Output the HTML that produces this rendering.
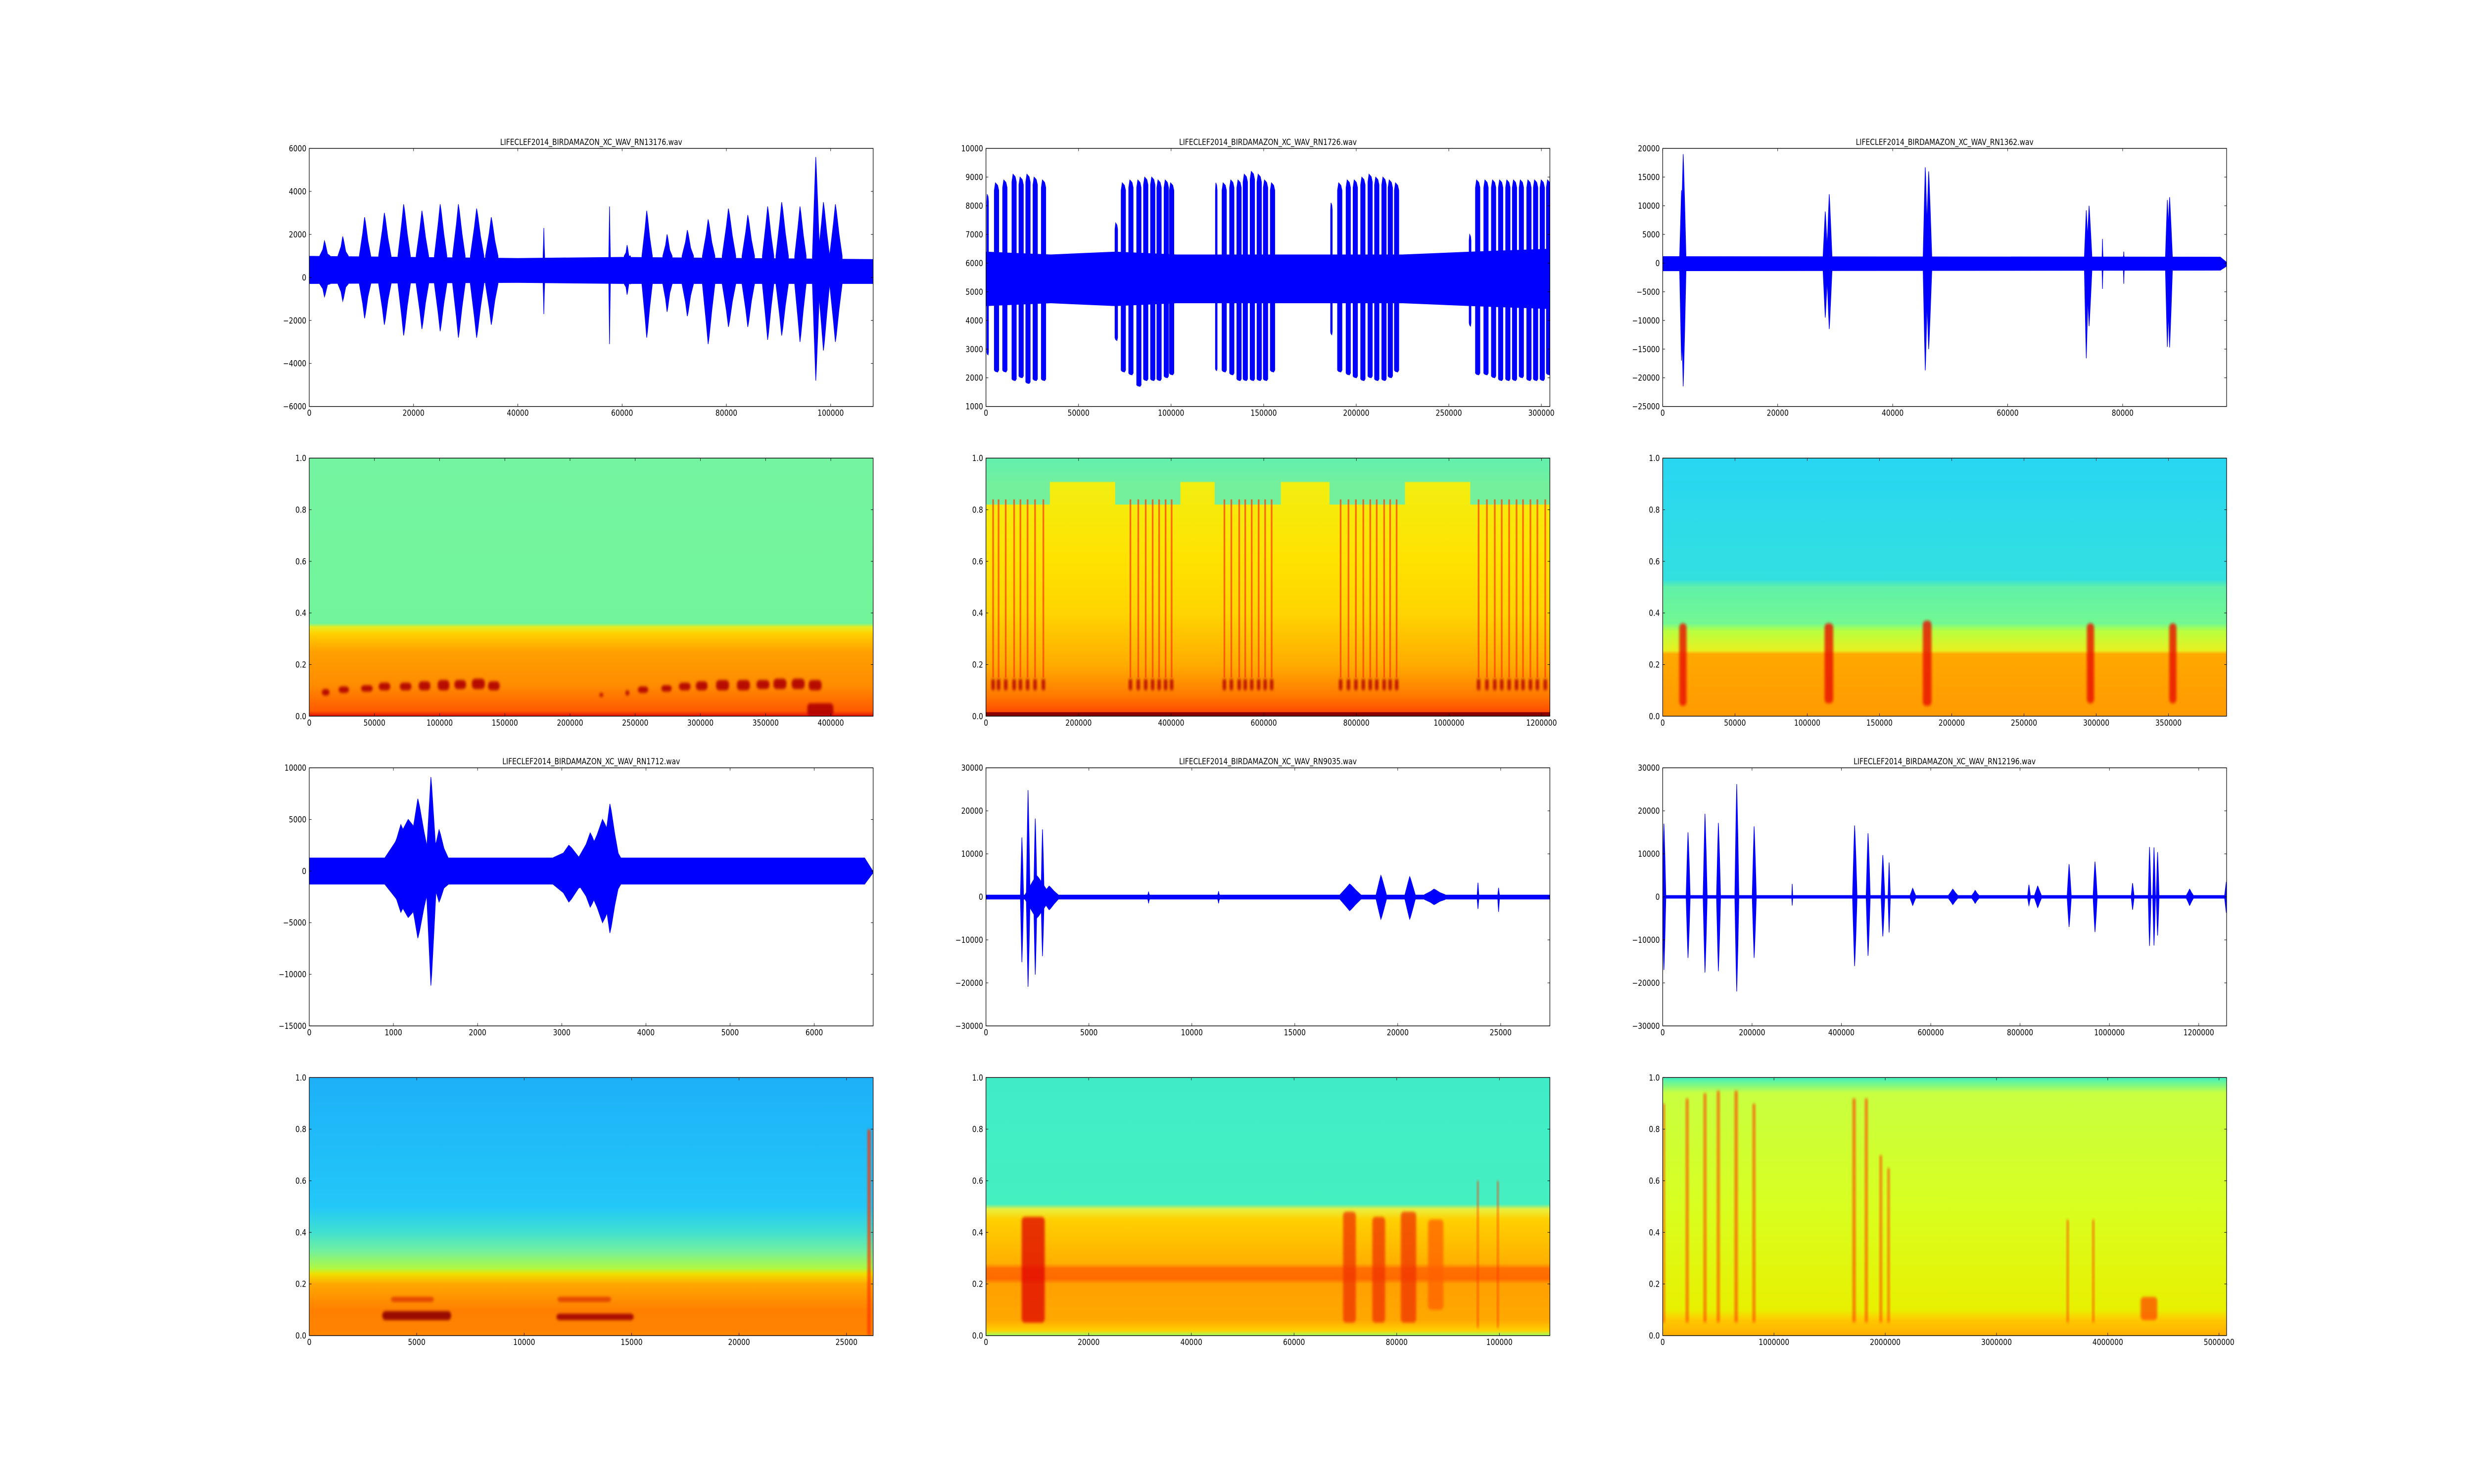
<!DOCTYPE html>
<html>
<head>
<meta charset="utf-8">
<style>
html,body{margin:0;padding:0;background:#fff;overflow:hidden;width:100%;height:100%;}
svg{display:block;width:100vw;height:100vh;}
text{font-family:"DejaVu Sans","Liberation Sans",sans-serif;font-size:16.7px;fill:#000;}
</style>
</head>
<body>
<svg id="fig" xmlns="http://www.w3.org/2000/svg" viewBox="0 0 6000 3000" preserveAspectRatio="none">
<rect x="0" y="0" width="6000" height="3000" fill="#fff"/>
<defs>
<filter id="blur" x="-50%" y="-50%" width="200%" height="200%"><feGaussianBlur stdDeviation="3"/></filter>
</defs>
</svg>
<script>
// ---------- Waveform data ----------
const w1Title = "LIFECLEF2014_BIRDAMAZON_XC_WAV_RN13176.wav";
const w1Xmax = 108150;
const w1Y = [-6000, 6000];
const w1XTicks = [0, 20000, 40000, 60000, 80000, 100000];
const w1YTicks = [-6000, -4000, -2000, 0, 2000, 4000, 6000];
const w1Base = [[0, 1000, -300], [40000, 900, -250], [60000, 950, -300], [108150, 850, -300]];
const w1EvX = [3000, 6500, 10700, 14500, 18200, 21700, 25200, 28700, 32200, 35000, 45000, 57600, 61000, 64800, 68700, 72600, 76600, 80500, 84200, 88000, 90700, 94200, 97200, 98700, 101000];
const w1EvHi = [1700, 1900, 2800, 3000, 3400, 3100, 3400, 3400, 3200, 2800, 2300, 3300, 1500, 3100, 2000, 2200, 2700, 3200, 2900, 3300, 3500, 3300, 5600, 3500, 3400];
const w1EvLo = [-900, -1100, -1900, -2200, -2700, -2400, -2500, -2800, -2800, -2200, -1700, -3100, -800, -2800, -1600, -1800, -3100, -2300, -2300, -2900, -2700, -3000, -4800, -3400, -3000];
const w1EvW = [2000, 2000, 2200, 2400, 2400, 2400, 2400, 2400, 2600, 2400, 300, 300, 1200, 2000, 1800, 2200, 2400, 2600, 2400, 2200, 2400, 2200, 1400, 2200, 2400];

const w2Title = "LIFECLEF2014_BIRDAMAZON_XC_WAV_RN1726.wav";
const w2Xmax = 304600;
const w2Y = [1000, 10000];
const w2XTicks = [0, 50000, 100000, 150000, 200000, 250000, 300000];
const w2YTicks = [1000, 2000, 3000, 4000, 5000, 6000, 7000, 8000, 9000, 10000];
const w2Base = [[0, 6400, 4500], [35000, 6300, 4600], [70000, 6400, 4500], [103000, 6300, 4600], [157000, 6300, 4600], [225000, 6300, 4600], [262000, 6400, 4500], [304600, 6500, 4400]];
const w2EvX = [900, 5700, 10200, 15200, 19000, 22700, 26600, 31100, 70400, 74200, 78300, 82600, 86300, 90100, 93500, 97400, 100300, 124400, 128700, 132800, 136700, 140100, 143900, 147600, 151000, 154800, 186600, 191100, 195700, 199500, 203600, 207500, 211100, 215000, 218400, 221800, 261500, 265600, 270100, 274200, 278000, 281900, 285500, 289200, 293300, 296900, 300500, 303900];
const w2EvHi = [8400, 8800, 8900, 9100, 9000, 9100, 9000, 8900, 7400, 8800, 8900, 8900, 9000, 9000, 8900, 8900, 8800, 8800, 8800, 8900, 8900, 9100, 9200, 9100, 8900, 8800, 8100, 8800, 8900, 8900, 9000, 9100, 9000, 9000, 8900, 8800, 7000, 8900, 8900, 8900, 8900, 8900, 8900, 8900, 8900, 8900, 8900, 8900];
const w2EvLo = [2800, 2200, 2200, 1900, 2000, 1800, 1900, 1900, 3300, 2200, 2100, 1700, 1900, 1900, 1900, 2000, 2100, 2250, 2200, 2100, 1900, 1900, 1900, 1900, 1900, 2200, 3500, 2200, 2100, 2000, 1900, 2000, 1900, 1900, 2000, 2200, 3800, 2100, 2100, 2000, 1900, 1900, 1900, 2000, 1900, 1900, 1900, 2100];
const w2EvW = [900, 2400, 2400, 2400, 2400, 2400, 2400, 2400, 1400, 2400, 2400, 2400, 2400, 2400, 2400, 2400, 2400, 900, 2400, 2400, 2400, 2400, 2400, 2400, 2400, 2400, 900, 2400, 2400, 2400, 2400, 2400, 2400, 2400, 2400, 2400, 1000, 2400, 2400, 2400, 2400, 2400, 2400, 2400, 2400, 2400, 2400, 2400];

const w3Title = "LIFECLEF2014_BIRDAMAZON_XC_WAV_RN1362.wav";
const w3Xmax = 98080;
const w3Y = [-25000, 20000];
const w3XTicks = [0, 20000, 40000, 60000, 80000];
const w3YTicks = [-25000, -20000, -15000, -10000, -5000, 0, 5000, 10000, 15000, 20000];
const w3Base = [[0, 1200, -1400], [97000, 1100, -1300], [98080, 200, -600]];
const w3EvX = [3300, 3600, 28300, 29000, 45700, 46300, 73700, 74200, 76500, 80200, 87800, 88200];
const w3EvHi = [12700, 19000, 9000, 12000, 16700, 16000, 9200, 10000, 4200, 2000, 11000, 11500];
const w3EvLo = [-17000, -21500, -9500, -11500, -18700, -15000, -16600, -11000, -4500, -3600, -14600, -14700];
const w3EvW = [700, 900, 800, 900, 800, 1000, 700, 900, 150, 150, 700, 900];

const w4Title = "LIFECLEF2014_BIRDAMAZON_XC_WAV_RN1712.wav";
const w4Xmax = 6700;
const w4Y = [-15000, 10000];
const w4XTicks = [0, 1000, 2000, 3000, 4000, 5000, 6000];
const w4YTicks = [-15000, -10000, -5000, 0, 5000, 10000];
const w4Base = [[0, 1300, -1300], [6600, 1300, -1300], [6700, 0, -200]];
const w4EvX = [1100, 1200, 1300, 1450, 1550, 3100, 3350, 3500, 3580];
const w4EvHi = [4500, 5000, 7000, 9100, 4000, 2500, 3700, 5000, 6500];
const w4EvLo = [-4000, -4500, -6500, -11100, -3000, -3000, -3500, -5000, -6000];
const w4EvW = [300, 600, 250, 120, 200, 400, 300, 400, 200];

const w5Title = "LIFECLEF2014_BIRDAMAZON_XC_WAV_RN9035.wav";
const w5Xmax = 27390;
const w5Y = [-30000, 30000];
const w5XTicks = [0, 5000, 10000, 15000, 20000, 25000];
const w5YTicks = [-30000, -20000, -10000, 0, 10000, 20000, 30000];
const w5Base = [[0, 500, -600], [27390, 500, -600]];
const w5EvX = [1750, 2050, 2400, 2500, 2750, 3100, 7900, 11300, 17700, 19200, 20600, 21800, 23900, 24900];
const w5EvHi = [13800, 24800, 18200, 5000, 15700, 2500, 1200, 1300, 3000, 5000, 4700, 1800, 3300, 2100];
const w5EvLo = [-15200, -20900, -18100, -5000, -13800, -3000, -1500, -1500, -3200, -5200, -5200, -1800, -2800, -3500];
const w5EvW = [150, 180, 160, 1200, 150, 800, 80, 80, 1000, 500, 500, 1000, 80, 80];

const w6Title = "LIFECLEF2014_BIRDAMAZON_XC_WAV_RN12196.wav";
const w6Xmax = 1262300;
const w6Y = [-30000, 30000];
const w6XTicks = [0, 200000, 400000, 600000, 800000, 1000000, 1200000];
const w6YTicks = [-30000, -20000, -10000, 0, 10000, 20000, 30000];
const w6Base = [[0, 400, -400], [1262300, 400, -400]];
const w6EvX = [3000, 57000, 95000, 125000, 166000, 205000, 290000, 430000, 460000, 493000, 507000, 560000, 650000, 700000, 820000, 840000, 910000, 968000, 1052000, 1090000, 1100000, 1108000, 1180000, 1262000];
const w6EvHi = [17000, 15000, 19300, 17200, 26200, 16400, 3000, 16600, 14800, 9700, 8000, 2000, 1800, 1500, 2800, 2500, 7600, 8200, 3200, 11600, 11500, 10400, 1800, 3500];
const w6EvLo = [-17000, -14200, -17600, -17300, -22000, -14200, -2000, -16100, -13700, -9200, -8300, -2000, -1800, -1500, -2000, -2500, -7000, -8200, -3000, -11400, -11300, -9000, -2000, -3700];
const w6EvW = [8000, 9000, 9000, 9000, 9000, 9000, 2000, 10000, 9000, 8000, 5000, 12000, 20000, 15000, 6000, 15000, 9000, 9000, 6000, 6000, 6000, 6000, 15000, 8000];

// ---------- Spectrogram data ----------
const s1Xmax = 432500;
const s1XTicks = [0, 50000, 100000, 150000, 200000, 250000, 300000, 350000, 400000];
const s1StopY = [0, 0.02, 0.12, 0.25, 0.32, 0.345, 0.36, 1];
const s1StopC = ['#e01000', '#ff5a00', '#ff8c00', '#ffa000', '#ffd000', '#e8ec20', '#72f59a', '#74f4a0'];
const s1FX = [12600, 26500, 44200, 57700, 73900, 88400, 103000, 115800, 129700, 141600, 224000, 244000, 256000, 274000, 288000, 301000, 317000, 333000, 348000, 361000, 375000, 388000, 392000];
const s1FY0 = [0.08, 0.09, 0.095, 0.1, 0.1, 0.1, 0.1, 0.105, 0.105, 0.1, 0.075, 0.08, 0.09, 0.095, 0.1, 0.1, 0.1, 0.1, 0.105, 0.105, 0.105, 0.1, 0.0];
const s1FY1 = [0.105, 0.115, 0.12, 0.13, 0.13, 0.135, 0.14, 0.14, 0.145, 0.135, 0.09, 0.1, 0.115, 0.12, 0.13, 0.135, 0.14, 0.14, 0.14, 0.145, 0.145, 0.14, 0.05];
const s1FW = [6000, 8000, 9000, 9000, 9000, 9000, 9000, 9000, 10000, 9000, 3000, 3000, 8000, 8000, 9000, 9000, 10000, 10000, 10000, 10000, 10000, 10000, 20000];
const s1FC = ['#b00000'];

const s2Xmax = 1218000;
const s2XTicks = [0, 200000, 400000, 600000, 800000, 1000000, 1200000];
const s2StopY = [0, 0.015, 0.016, 0.08, 0.2, 0.4, 0.6, 0.905, 0.91, 1];
const s2StopC = ['#800000', '#900000', '#ff4a00', '#ff7a00', '#ffac00', '#ffd400', '#ffe200', '#f2ee10', '#70f0a0', '#62f0ae'];
const s2GreenX0 = [0, 279000, 494000, 742000, 1046000];
const s2GreenX1 = [138000, 420000, 637000, 905000, 1218000];
const s2FX = [15400, 27200, 42700, 60800, 74400, 89900, 106000, 124000, 312000, 329000, 345000, 360000, 374000, 388000, 401000, 515000, 530000, 547000, 560000, 574000, 589000, 603000, 617000, 766000, 783000, 799000, 815000, 830000, 844000, 860000, 873000, 887000, 1064000, 1082000, 1099000, 1114000, 1130000, 1146000, 1160000, 1176000, 1191000, 1208000];

const s3Xmax = 390200;
const s3XTicks = [0, 50000, 100000, 150000, 200000, 250000, 300000, 350000];
const s3StopY = [0, 0.24, 0.255, 0.33, 0.36, 0.5, 0.53, 1];
const s3StopC = ['#ff9a00', '#ffa800', '#e8f020', '#b8ff40', '#72f892', '#60f0a8', '#32e0e0', '#28d6f2'];
const s3FX = [14000, 115000, 183000, 296000, 353000];
const s3FY0 = [0.04, 0.05, 0.04, 0.05, 0.05];
const s3FY1 = [0.36, 0.36, 0.37, 0.36, 0.36];
const s3FW = [5000, 6000, 6000, 5000, 5000];

const s4Xmax = 26240;
const s4XTicks = [0, 5000, 10000, 15000, 20000, 25000];
const s4StopY = [0, 0.1, 0.2, 0.24, 0.26, 0.33, 0.4, 0.5, 1];
const s4StopC = ['#ff8400', '#ff8000', '#ffa800', '#f0e000', '#b0f840', '#70f0a0', '#40e0d0', '#22c8f8', '#1eb0f8'];
const s4FX = [5000, 13300, 4800, 12800, 26050];
const s4FY0 = [0.06, 0.06, 0.13, 0.13, 0.0];
const s4FY1 = [0.095, 0.085, 0.15, 0.15, 0.8];
const s4FW = [3200, 3600, 2000, 2500, 130];
const s4FC = ['#900000', '#a00000', '#e04000', '#e04000', '#ff3000'];

const s5Xmax = 109830;
const s5XTicks = [0, 20000, 40000, 60000, 80000, 100000];
const s5StopY = [0, 0.02, 0.06, 0.2, 0.22, 0.26, 0.28, 0.45, 0.49, 0.51, 1];
const s5StopC = ['#a0ff60', '#ffd000', '#ffa800', '#ffa000', '#ff6a00', '#ff7000', '#ffb000', '#ffd000', '#e8f040', '#44f0c0', '#40ecc8'];
const s5FX = [9200, 70800, 76500, 82300, 87600, 95800, 99700];
const s5FY0 = [0.05, 0.05, 0.05, 0.05, 0.1, 0.03, 0.03];
const s5FY1 = [0.46, 0.48, 0.46, 0.48, 0.45, 0.6, 0.6];
const s5FW = [4500, 2500, 2500, 3000, 3000, 300, 300];
const s5FC = ['#e00000', '#f03000', '#f03000', '#f03000', '#ff6000', '#ff3000', '#ff3000'];

const s6Xmax = 5068000;
const s6XTicks = [0, 1000000, 2000000, 3000000, 4000000, 5000000];
const s6StopY = [0, 0.06, 0.1, 0.5, 0.94, 0.97, 1];
const s6StopC = ['#ffae00', '#ffc800', '#e8f000', '#d8ff20', '#c8ff40', '#80f880', '#40f0c0'];
const s6FX = [10000, 220000, 380000, 500000, 660000, 820000, 1720000, 1830000, 1960000, 2030000, 3640000, 3870000, 4370000];
const s6FY0 = [0.05, 0.05, 0.05, 0.05, 0.05, 0.05, 0.05, 0.05, 0.05, 0.05, 0.05, 0.05, 0.06];
const s6FY1 = [0.9, 0.92, 0.94, 0.95, 0.95, 0.9, 0.92, 0.92, 0.7, 0.65, 0.45, 0.45, 0.15];
const s6FW = [20000, 25000, 25000, 25000, 28000, 25000, 28000, 25000, 22000, 20000, 18000, 18000, 150000];

// ---------- Rendering ----------
const NS = "http://www.w3.org/2000/svg";
const svg = document.getElementById('fig');
const COLS = [750, 2391.2, 4032.4];
const ROWS = [300, 926.1, 1552.2, 2178.3];
const AW = 1367.6, AH = 521.7, TL = 5.6, PAD = 6;
let clipN = 0;

function mk(tag, attrs, parent) {
  const e = document.createElementNS(NS, tag);
  for (const k in attrs) e.setAttribute(k, attrs[k]);
  (parent || svg).appendChild(e);
  return e;
}
function fmt(v) { return String(v).replace('-', '\u2212'); }

function makeAxes(col, row, xmax, ymin, ymax, name) {
  const x0 = COLS[col], y0 = ROWS[row];
  const g = mk('g', {});
  
  
  const sx = v => x0 + (v / xmax) * AW;
  const sy = v => y0 + AH - ((v - ymin) / (ymax - ymin)) * AH;
  const id = 'clip' + (clipN++);
  const cp = mk('clipPath', { id: id }, g);
  mk('rect', { x: x0, y: y0, width: AW, height: AH }, cp);
  const plot = mk('g', { 'clip-path': 'url(#' + id + ')' }, g);
  
  
  return { g, plot, sx, sy, x0, y0 };
}

function finishAxes(ax, xTicks, yTicks, yFmt, name) {
  const { g, sx, sy, x0, y0 } = ax;
  const xg = mk('g', {}, g);
  
  
  xTicks.forEach(t => {
    const x = sx(t);
    mk('line', { x1: x, y1: y0 + AH, x2: x, y2: y0 + AH - TL, stroke: '#000', 'stroke-width': 1 }, xg);
    mk('line', { x1: x, y1: y0, x2: x, y2: y0 + TL, stroke: '#000', 'stroke-width': 1 }, xg);
    const tx = mk('text', { x: x, y: y0 + AH + PAD + 13, 'text-anchor': 'middle' }, xg);
    
    
    tx.textContent = fmt(t);
  });
  const yg = mk('g', {}, g);
  
  
  yTicks.forEach(t => {
    const y = sy(t);
    mk('line', { x1: x0, y1: y, x2: x0 + TL, y2: y, stroke: '#000', 'stroke-width': 1 }, yg);
    mk('line', { x1: x0 + AW, y1: y, x2: x0 + AW - TL, y2: y, stroke: '#000', 'stroke-width': 1 }, yg);
    const ty = mk('text', { x: x0 - PAD - 1, y: y + 6, 'text-anchor': 'end' }, yg);
    
    
    ty.textContent = yFmt(t);
  });
  const fr = mk('rect', { x: x0, y: y0, width: AW, height: AH, fill: 'none', stroke: '#000', 'stroke-width': 1.4 }, g);
  
  
}

function waveform(col, row, title, xmax, yl, xt, yt, base, ex, ehi, elo, ew, block, name) {
  const ax = makeAxes(col, row, xmax, yl[0], yl[1], name);
  const { plot, sx, sy, x0, y0 } = ax;
  const top = base.map(b => sx(b[0]).toFixed(1) + ',' + sy(b[1]).toFixed(1));
  const bot = base.slice().reverse().map(b => sx(b[0]).toFixed(1) + ',' + sy(b[2]).toFixed(1));
  const bp = mk('polygon', { points: top.concat(bot).join(' '), fill: '#0000ff' }, plot);
  
  
  const mid = (base[0][1] + base[0][2]) / 2;
  ex.forEach((x, i) => {
    const w = ew[i], hi = ehi[i], lo = elo[i];
    let pts;
    if (block) {
      pts = [[x - w / 2, hi * 0.97], [x - w / 4, hi], [x + w / 4, hi * 0.99], [x + w / 2, hi * 0.97],
             [x + w / 2, lo * 1.03], [x + w / 4, lo], [x - w / 4, lo * 1.01], [x - w / 2, lo * 1.03]];
    } else {
      const bh = base[0][1], bl = base[0][2];
      pts = [[x - w / 2, bh], [x - w * 0.2, mid + (hi - mid) * 0.7], [x - w * 0.04, hi], [x + w * 0.04, mid + (hi - mid) * 0.9],
             [x + w * 0.25, mid + (hi - mid) * 0.55], [x + w / 2, bh],
             [x + w / 2, bl], [x + w * 0.25, mid + (lo - mid) * 0.55], [x + w * 0.04, mid + (lo - mid) * 0.9],
             [x - w * 0.04, lo], [x - w * 0.2, mid + (lo - mid) * 0.7], [x - w / 2, bl]];
    }
    const p = mk('polygon', { points: pts.map(q => sx(q[0]).toFixed(1) + ',' + sy(q[1]).toFixed(1)).join(' '), fill: '#0000ff', stroke: '#0000ff', 'stroke-width': 1.4, 'stroke-linejoin': 'miter' }, plot);
    
    
  });
  finishAxes(ax, xt, yt, fmt, name);
  const t = mk('text', { x: x0 + AW / 2, y: y0 - 7, 'text-anchor': 'middle' });
  
  
  t.textContent = title;
}

let gradN = 0;
function spectro(col, row, xmax, xt, stopY, stopC, feats, name, extra) {
  const ax = makeAxes(col, row, xmax, 0, 1, name);
  const { plot, sx, sy, x0, y0 } = ax;
  const gid = 'grad' + (gradN++);
  const lg = mk('linearGradient', { id: gid, x1: 0, y1: 1, x2: 0, y2: 0 }, plot);
  stopY.forEach((y, i) => mk('stop', { offset: y, 'stop-color': stopC[i] }, lg));
  const bg = mk('rect', { x: x0, y: y0, width: AW, height: AH, fill: 'url(#' + gid + ')' }, plot);
  
  
  if (extra) extra(plot, sx, sy);
  feats.x.forEach((x, i) => {
    const w = Array.isArray(feats.w) ? feats.w[i] : feats.w;
    const c = feats.c[i % feats.c.length];
    const y0v = Array.isArray(feats.y0) ? feats.y0[i] : feats.y0;
    const y1v = Array.isArray(feats.y1) ? feats.y1[i] : feats.y1;
    const px = sx(x - w / 2), pw = Math.max(2, sx(x + w / 2) - px);
    const r = mk('rect', { x: px, y: sy(y1v), width: pw, height: sy(y0v) - sy(y1v), rx: Math.min(pw / 2, 8), fill: c, opacity: feats.op || 0.9, filter: 'url(#blur)' }, plot);
    
    
  });
  finishAxes(ax, xt, [0, 0.2, 0.4, 0.6, 0.8, 1.0], v => v.toFixed(1), name);
}

// Row 1: waveforms
waveform(0, 0, w1Title, w1Xmax, w1Y, w1XTicks, w1YTicks, w1Base, w1EvX, w1EvHi, w1EvLo, w1EvW, false, 'waveform-rn13176');
waveform(1, 0, w2Title, w2Xmax, w2Y, w2XTicks, w2YTicks, w2Base, w2EvX, w2EvHi, w2EvLo, w2EvW, true, 'waveform-rn1726');
waveform(2, 0, w3Title, w3Xmax, w3Y, w3XTicks, w3YTicks, w3Base, w3EvX, w3EvHi, w3EvLo, w3EvW, false, 'waveform-rn1362');
// Row 2: spectrograms
spectro(0, 1, s1Xmax, s1XTicks, s1StopY, s1StopC, { x: s1FX, y0: s1FY0, y1: s1FY1, w: s1FW, c: s1FC }, 'spectrogram-rn13176');
spectro(1, 1, s2Xmax, s2XTicks, s2StopY, s2StopC,
  { x: s2FX, y0: 0.1, y1: 0.145, w: 7000, c: ['#b00000'] }, 'spectrogram-rn1726',
  (plot, sx, sy) => {
    s2GreenX0.forEach((a, i) => {
      const r = mk('rect', { x: sx(a), y: sy(0.91), width: sx(s2GreenX1[i]) - sx(a), height: sy(0.82) - sy(0.91), fill: '#74f09c' }, plot);
      
      
    });
    s2FX.forEach(x => {
      const r = mk('rect', { x: sx(x) - 2, y: sy(0.84), width: 4, height: sy(0.15) - sy(0.84), fill: '#ff4000', opacity: 0.75 }, plot);
      
      
    });
  });
spectro(2, 1, s3Xmax, s3XTicks, s3StopY, s3StopC, { x: s3FX, y0: s3FY0, y1: s3FY1, w: s3FW, c: ['#e81000'], op: 0.8 }, 'spectrogram-rn1362');
// Row 3: waveforms
waveform(0, 2, w4Title, w4Xmax, w4Y, w4XTicks, w4YTicks, w4Base, w4EvX, w4EvHi, w4EvLo, w4EvW, false, 'waveform-rn1712');
waveform(1, 2, w5Title, w5Xmax, w5Y, w5XTicks, w5YTicks, w5Base, w5EvX, w5EvHi, w5EvLo, w5EvW, false, 'waveform-rn9035');
waveform(2, 2, w6Title, w6Xmax, w6Y, w6XTicks, w6YTicks, w6Base, w6EvX, w6EvHi, w6EvLo, w6EvW, false, 'waveform-rn12196');
// Row 4: spectrograms
spectro(0, 3, s4Xmax, s4XTicks, s4StopY, s4StopC, { x: s4FX, y0: s4FY0, y1: s4FY1, w: s4FW, c: s4FC }, 'spectrogram-rn1712');
spectro(1, 3, s5Xmax, s5XTicks, s5StopY, s5StopC, { x: s5FX, y0: s5FY0, y1: s5FY1, w: s5FW, c: s5FC, op: 0.75 }, 'spectrogram-rn9035');
spectro(2, 3, s6Xmax, s6XTicks, s6StopY, s6StopC, { x: s6FX, y0: s6FY0, y1: s6FY1, w: s6FW, c: ['#ff4000'], op: 0.7 }, 'spectrogram-rn12196');
</script>
</body>
</html>
